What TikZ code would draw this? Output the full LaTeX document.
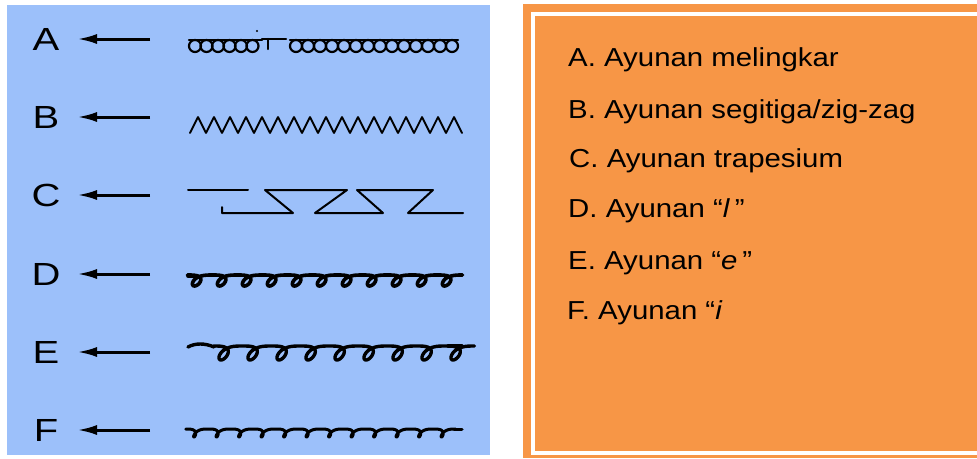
\documentclass[tikz,border=0pt]{standalone}
\usepackage{fontspec}
\setmainfont{Liberation Sans}
\usetikzlibrary{arrows.meta}
\definecolor{panelblue}{RGB}{156,192,250}
\definecolor{panelorange}{RGB}{247,150,70}

\begin{document}
\begin{tikzpicture}[x=1pt,y=-1pt,
  letter/.style={font=\fontsize{32}{32}\selectfont, inner sep=0pt, xscale=1.25},
  item/.style={font=\fontsize{26}{26}\selectfont, anchor=base west, inner sep=0pt, xscale=1.13},
  pointer/.style={line width=3pt, -{Latex[length=20pt,width=10pt]}},
  stitch/.style={line width=2.2pt, line join=round, line cap=round},
  heavy/.style={line width=3.6pt, line join=round, line cap=round},
]
\useasboundingbox (0,0) rectangle (977,458);
\clip (0,0) rectangle (977,458);

% panels
\fill[panelblue] (7,5) rectangle (490,455);
\fill[panelorange] (523,4) rectangle (977,458);
\draw[white, line width=4pt] (532.5,14) rectangle (1000,452.5);

% letters and pointers
\foreach \n/\yy in {A/39,B/117,C/195,D/274,E/352,F/430}{
  \node[letter] (l\n) at (46,\yy) {\n};
  \coordinate (h\n) at (77,\yy);
  \coordinate (t\n) at (150,\yy);
  \draw[pointer] (t\n) -- (h\n);
}

% A: chain loops
\foreach \k in {0,...,5} \draw[stitch] (195+11.5*\k,46) circle (6pt);
\draw[stitch] (189,40) -- (262,40);
\draw[stitch] (262,39) -- (286,39);
\draw[stitch] (268,39) -- (268,49);
\foreach \k in {0,...,13} \draw[stitch] (296+12*\k,46) circle (6pt);
\draw[stitch] (290,40) -- (458,40);
\fill (257,31) circle (1.2pt);

% B: zig-zag
\draw[stitch, line width=1.8pt] plot[samples at={0,...,34}] ({190+8*\x},{125+8*cos(180*\x)});

% C: trapezium
\draw[stitch, line width=2pt] (188,190) -- (248,190);
\draw[stitch, line width=2pt] (222,207) -- (222,213) -- (293,213) -- (265,190) -- (347,190)
  -- (315,213) -- (383,213) -- (357,190) -- (433,190) -- (408,213) -- (463,213);

% D: slanted "l" loops hanging under a running line
\draw[heavy] (188,276) -- (194,276);
\draw[heavy] plot[domain=-180:3780, samples=420]
  ({200+25*(\x/360)-9*sin(\x)-5.5*((1+cos(\x))/2)^1.5},{275+11*((1+cos(\x))/2)^1.5});

% E: slanted "e" loops
\draw[heavy, line width=3.4pt] (188,347) .. controls (195,343) and (205,343) .. (214,347);
\draw[heavy, line width=3.4pt] plot[domain=-180:3060, samples=360]
  ({228+29*(\x/360)-10*sin(\x)-7*((1+cos(\x))/2)^1.5},{346+14*((1+cos(\x))/2)^1.5});
\draw[heavy, line width=3.4pt] (448,346) -- (462,346);

% F: "i" loops
\draw[heavy, line width=3pt] plot[domain=-180:4140, samples=460]
  ({197+22.5*(\x/360)-5*sin(\x)-3*((1+cos(\x))/2)^1.5},{429+8*((1+cos(\x))/2)^1.5});
\draw[heavy, line width=3pt] (454,429) -- (462,429);

% legend
\node[item] (iA) at (568,66) {A. Ayunan melingkar};
\node[item] (iB) at (568,118) {B. Ayunan segitiga/zig-zag};
\node[item] (iC) at (569,167) {C. Ayunan trapesium};
\node[item] (iD) at (568,217) {D. Ayunan “\textit{l}\,”};
\node[item] (iE) at (568,269) {E. Ayunan “\textit{e}\,”};
\node[item] (iF) at (567,319) {F. Ayunan “\textit{i}};
\end{tikzpicture}
\end{document}
